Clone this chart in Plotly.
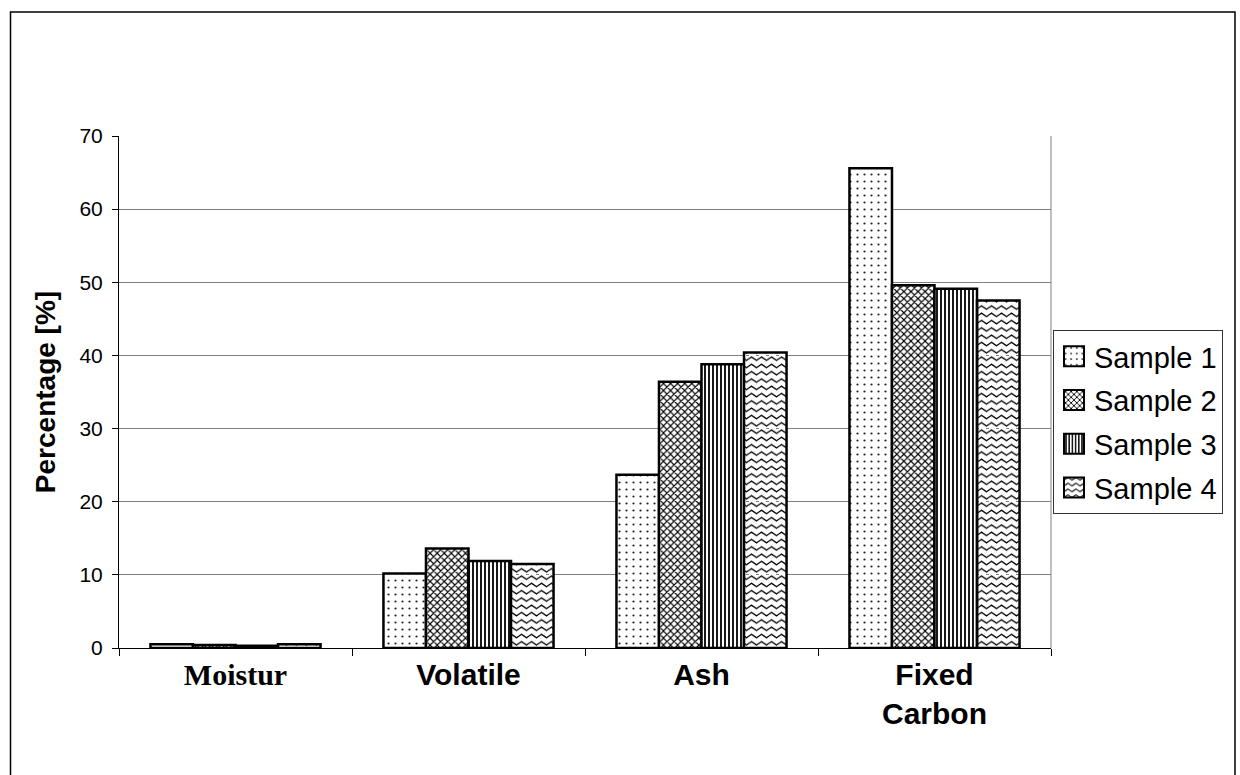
import plotly.graph_objects as go

categories = ["Moistur", "Volatile", "Ash", "Fixed<br>Carbon"]
series_names = ["Sample 1", "Sample 2", "Sample 3", "Sample 4"]
sample1 = [0.5, 10.2, 23.7, 65.6]
sample2 = [0.4, 13.6, 36.4, 49.6]
sample3 = [0.3, 11.9, 38.8, 49.1]
sample4 = [0.5, 11.5, 40.4, 47.5]
y_ticks = [0, 10, 20, 30, 40, 50, 60, 70]

values = [sample1, sample2, sample3, sample4]
patterns = [
    dict(shape=".", size=7, solidity=0.08, fgcolor="#222222", bgcolor="white", fillmode="replace"),
    dict(shape="x", size=5, solidity=0.4, fgcolor="#000000", bgcolor="white", fillmode="replace"),
    dict(shape="|", size=4, solidity=0.45, fgcolor="#000000", bgcolor="white", fillmode="replace"),
    dict(shape="-", size=7, solidity=0.2, fgcolor="#010101", bgcolor="white", fillmode="replace"),
]

tick_labels = [
    "<span style='font-family:Liberation Serif'>" + categories[0] + "</span>",
] + categories[1:]

fig = go.Figure()
for name, vals, pat in zip(series_names, values, patterns):
    fig.add_trace(go.Bar(
        x=categories, y=vals, name=name,
        marker=dict(color="white", pattern=pat, line=dict(color="black", width=2.5)),
        legendgroup=name,
    ))

W, H = 1240, 775
L, R, T, B = 119, 1051, 136, 648
pw, ph = R - L, B - T

def px_x(v):
    return (v - L) / pw

def px_y(v):
    return (B - v) / ph

fig.update_layout(
    width=W, height=H,
    margin=dict(l=L, r=W - R, t=T, b=H - B, pad=0),
    paper_bgcolor="white", plot_bgcolor="white",
    barmode="group", bargap=0.27, bargroupgap=0,
    font=dict(family="Arial, Liberation Sans", color="black"),
    showlegend=True,
    legend=dict(
        x=px_x(1053), y=px_y(330), xanchor="left", yanchor="top",
        bgcolor="white", bordercolor="#333333", borderwidth=1,
        font=dict(size=29, family="Arial, Liberation Sans", color="black"),
        tracegroupgap=3,
    ),
    xaxis=dict(
        categoryorder="array", categoryarray=categories,
        tickmode="array", tickvals=categories, ticktext=tick_labels,
        tickson="boundaries", ticks="outside", ticklen=7, tickcolor="black",
        showline=True, linecolor="black", linewidth=1,
        tickfont=dict(size=30, family="Arial, Liberation Sans", color="black", weight="bold"),
        showgrid=False, zeroline=False,
    ),
    yaxis=dict(
        range=[0, 70], tickvals=y_ticks, ticks="outside", ticklen=6, tickcolor="black",
        showline=True, linecolor="black", linewidth=1,
        showgrid=True, gridcolor="#808080", gridwidth=1, zeroline=False,
        tickfont=dict(size=21, family="Arial, Liberation Sans", color="black"),
        ticklabelstandoff=5,
        title=dict(text="<b>Percentage [%]</b>", font=dict(size=28, family="Arial, Liberation Sans", color="black"), standoff=15),
    ),
    shapes=[
        dict(type="line", xref="paper", yref="paper", x0=1, x1=1, y0=0, y1=1,
             line=dict(color="#808080", width=1)),
        dict(type="rect", xref="paper", yref="paper",
             x0=px_x(10.5), x1=px_x(1235), y0=px_y(790), y1=px_y(12),
             line=dict(color="black", width=1.5), fillcolor="rgba(0,0,0,0)"),
    ],
)

# Turn the Sample 4 stripe fill into a zigzag wave and enlarge legend swatches
post_js = """
function isWave(el){
  var a = (el.getAttribute('stroke') || '') + '|' + (el.style.stroke || '');
  a = a.replace(/\\s/g,'').toLowerCase();
  return a.indexOf('rgb(1,1,1)') >= 0 || a.indexOf('#010101') >= 0;
}
document.querySelectorAll('pattern').forEach(function(p){
  var path = p.querySelector('path');
  if (!path || !isWave(path)) return;
  p.setAttribute('width', 10);
  p.setAttribute('height', 7.3);
  path.setAttribute('d', 'M-2.5,5.3 L2.5,2 L7.5,5.3 L12.5,2');
  path.setAttribute('stroke-width', '1.3px');
  path.style.strokeWidth = '1.3px';
  path.setAttribute('fill', 'none');
  path.style.fill = 'none';
});
document.querySelectorAll('.legend .legendpoints path').forEach(function(el){
  el.setAttribute('d', 'M10,10H-10V-10H10Z');
  el.style.strokeWidth = '2px';
});
"""

fig.write_html("out.html", post_script=post_js)
